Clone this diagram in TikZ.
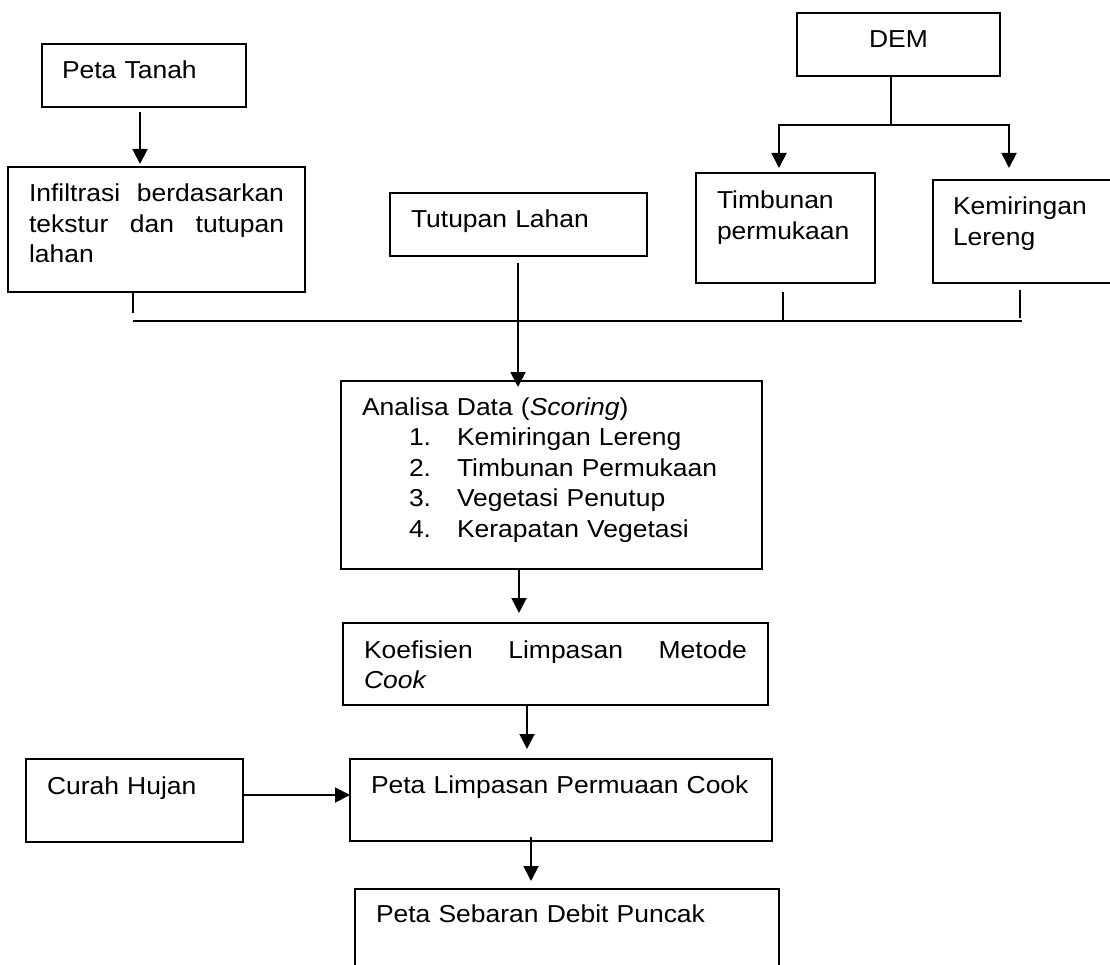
\documentclass[tikz,border=0pt]{standalone}
\usepackage{fontspec}
\setmainfont{Liberation Sans}[FakeStretch=1.08]
\usetikzlibrary{arrows.meta}

\tikzset{
  kotak/.style={draw, line width=1.3pt, anchor=north west, inner xsep=21pt, inner ysep=0pt,
    outer sep=0pt, align=left, font=\fontsize{24.5}{30.5}\selectfont},
  garis/.style={line width=1.9pt},
  panah/.style={garis, -{Triangle[length=15pt,width=15pt]}}
}
\newcommand{\butir}[2]{\hspace*{47pt}\makebox[48pt][l]{#1}#2}

\begin{document}
\begin{tikzpicture}[x=1pt,y=-1pt]
\useasboundingbox (0,0) rectangle (1110,965);
\clip (0,0) rectangle (1110,965);

%Kotak
\node[kotak, inner xsep=20pt, text width=164pt, text height=35pt, text depth=28pt] (tanah) at (42,44) {Peta Tanah};
\node[kotak, align=justify, text width=255pt, text height=35pt, text depth=90pt] (infil) at (8,167) {Infiltrasi berdasarkan tekstur dan tutupan lahan};
\node[kotak, text width=215pt, text height=35pt, text depth=28pt] (tutupan) at (390,193) {Tutupan Lahan};
\node[kotak, inner xsep=20pt, align=center, text width=163pt, text height=35pt, text depth=28pt] (dem) at (797,13) {DEM};
\node[kotak, text width=137pt, text height=36pt, text depth=74pt] (timbunan) at (696,173) {Timbunan\\ permukaan};
\node[kotak, inner xsep=20pt, text width=152pt, text height=35pt, text depth=68pt] (kemiringan) at (933,180) {Kemiringan\\ Lereng};

\node[kotak, text width=379pt, text height=34pt, text depth=154pt] (analisa) at (341,381)
  {Analisa Data (\textit{Scoring})\\
   \butir{1.}{Kemiringan Lereng}\\
   \butir{2.}{Timbunan Permukaan}\\
   \butir{3.}{Vegetasi Penutup}\\
   \butir{4.}{Kerapatan Vegetasi}};
\node[kotak, align=justify, text width=383pt, text height=35pt, text depth=47pt] (koef) at (343,623) {Koefisien Limpasan Metode \textit{Cook}};
\node[kotak, text width=380pt, text height=34pt, text depth=48pt] (limpasan) at (350,759) {Peta Limpasan Permuaan Cook};
\node[kotak, text width=175pt, text height=35pt, text depth=48pt] (curah) at (26,759) {Curah Hujan};
\node[kotak, text width=382pt, text height=33pt, text depth=100pt] (sebaran) at (355,889) {Peta Sebaran Debit Puncak};

%Panah atas
\draw[panah] ([xshift=-4pt,yshift=-5pt]tanah.south) -- ([xshift=-16.5pt,yshift=3pt]infil.north);

\coordinate (cabang) at (891,125);
\draw[garis] ([xshift=-7.5pt]dem.south) -- (cabang);
\draw[panah] (cabang) -| ([xshift=-6.5pt,yshift=5pt]timbunan.north);
\draw[panah] (cabang) -| ([xshift=-20pt,yshift=12pt]kemiringan.north);

%Garis pengumpul
\coordinate (kiri) at (133,321);
\coordinate (kanan) at (1022,321);
\draw[garis] (kiri) -- (kanan);
\draw[garis] ([xshift=-23.5pt]infil.south) -- ([xshift=-23.5pt,yshift=-21pt]infil.south);
\draw[garis] ([xshift=-2.5pt,yshift=-9pt]timbunan.south) -- ([xshift=-2.5pt]timbunan.south |- kiri);
\draw[garis] ([xshift=-9pt,yshift=-7pt]kemiringan.south) -- ([xshift=-9pt,yshift=3pt]kemiringan.south |- kanan);
\draw[panah] ([xshift=-0.5pt,yshift=-7pt]tutupan.south) -- ([xshift=-0.5pt,yshift=-6pt]tutupan.south |- analisa.north);

%Panah bawah
\draw[panah] ([xshift=-32.5pt]analisa.south) -- ([xshift=-36.5pt,yshift=10pt]koef.north);
\draw[panah] ([xshift=-28.5pt]koef.south) -- ([xshift=-34pt,yshift=10pt]limpasan.north);
\draw[panah] ([xshift=-30pt,yshift=4pt]limpasan.south) -- ([xshift=-36pt,yshift=8pt]sebaran.north);
\draw[panah] ([yshift=5.5pt]curah.east) -- ([yshift=5pt]limpasan.west);

\end{tikzpicture}
\end{document}
